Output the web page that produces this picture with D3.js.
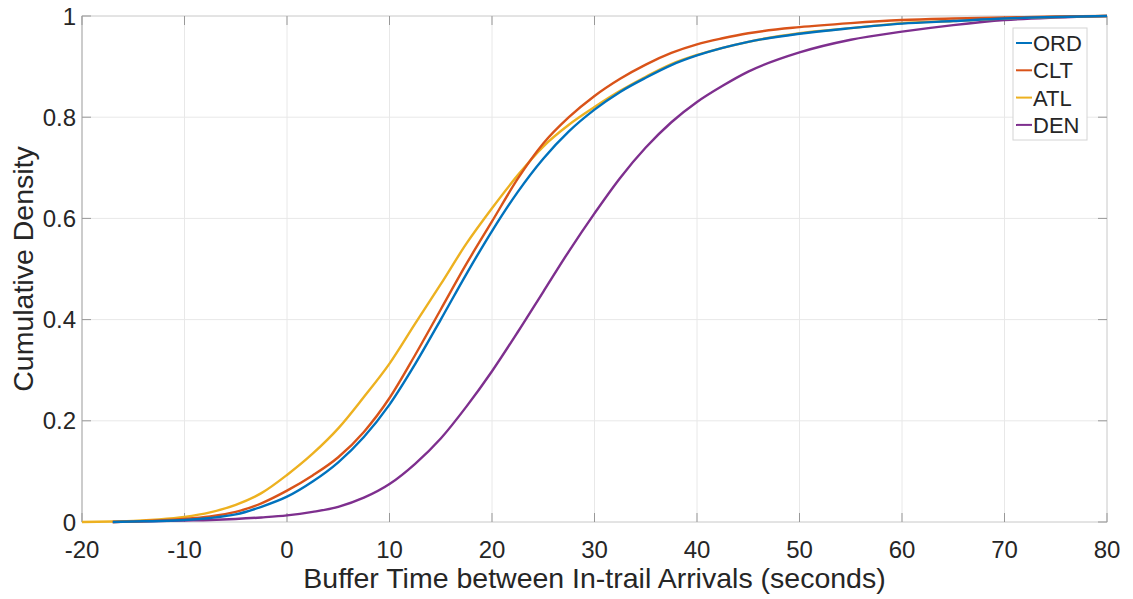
<!DOCTYPE html>
<html>
<head>
<meta charset="utf-8">
<script src="https://cdn.jsdelivr.net/npm/d3@7.9.0/dist/d3.min.js"></script>
<style>
  body { margin: 0; background: #fff; }
  text { font-family: "Liberation Sans", Arial, Helvetica, sans-serif; fill: #262626; }
</style>
</head>
<body>
<svg id="chart" width="1133" height="599"></svg>
<script>
// buffer time (seconds) where the CDFs were read
const xs = [-20, -17, -15, -12.5, -10, -7.5, -5, -2.5, 0, 2.5, 5, 7.5, 10, 12.5, 15, 17.5, 20,
  22.5, 25, 27.5, 30, 32.5, 35, 37.5, 40, 42.5, 45, 50, 55, 60, 65, 70, 75, 80];

// cumulative density per airport (null = no data yet)
const ord = [null, 0, 0.001, 0.002, 0.004, 0.008, 0.015, 0.03, 0.05, 0.08, 0.118, 0.168, 0.232, 0.312, 0.4, 0.49, 0.575,
  0.652, 0.718, 0.772, 0.815, 0.85, 0.878, 0.903, 0.922, 0.937, 0.949, 0.965, 0.976, 0.985, 0.99, 0.995, 0.998, 1];
const clt = [null, 0, 0.001, 0.003, 0.006, 0.011, 0.02, 0.037, 0.062, 0.092, 0.128, 0.178, 0.245, 0.33, 0.42, 0.51, 0.594,
  0.678, 0.748, 0.8, 0.842, 0.876, 0.904, 0.927, 0.944, 0.956, 0.966, 0.978, 0.986, 0.992, 0.995, 0.997, 0.999, 1];
const atl = [0, 0.001, 0.002, 0.005, 0.01, 0.019, 0.034, 0.057, 0.093, 0.135, 0.185, 0.247, 0.313, 0.392, 0.47, 0.55, 0.62,
  0.685, 0.742, 0.785, 0.82, 0.852, 0.88, 0.905, 0.923, 0.937, 0.949, 0.966, 0.976, 0.986, 0.99, 0.995, 0.998, 1];
const den = [null, 0, 0.001, 0.002, 0.003, 0.004, 0.006, 0.009, 0.013, 0.02, 0.03, 0.048, 0.075, 0.115, 0.165, 0.228, 0.298,
  0.375, 0.455, 0.535, 0.61, 0.68, 0.74, 0.79, 0.83, 0.862, 0.89, 0.928, 0.953, 0.969, 0.982, 0.992, 0.997, 1];

const seriesNames = ["ORD", "CLT", "ATL", "DEN"];
const seriesColors = ["#0072BD", "#D95319", "#EDB120", "#7E2F8E"];
const seriesValues = [ord, clt, atl, den];

const xTicks = [-20, -10, 0, 10, 20, 30, 40, 50, 60, 70, 80];
const yTicks = [0, 0.2, 0.4, 0.6, 0.8, 1];
const yTickLabels = ["0", "0.2", "0.4", "0.6", "0.8", "1"];

const svg = d3.select("#chart");
const plotL = 82, plotR = 1107, plotT = 16, plotB = 522;

const x = d3.scaleLinear().domain([-20, 80]).range([plotL, plotR]);
const y = d3.scaleLinear().domain([0, 1]).range([plotB, plotT]);

// grid
svg.append("g").selectAll("line").data(xTicks).join("line")
  .attr("x1", d => x(d)).attr("x2", d => x(d))
  .attr("y1", plotT).attr("y2", plotB)
  .attr("stroke", "#e8e8e8").attr("stroke-width", 1);
svg.append("g").selectAll("line").data(yTicks).join("line")
  .attr("x1", plotL).attr("x2", plotR)
  .attr("y1", d => y(d)).attr("y2", d => y(d))
  .attr("stroke", "#e8e8e8").attr("stroke-width", 1);

// box
svg.append("rect")
  .attr("x", plotL).attr("y", plotT)
  .attr("width", plotR - plotL).attr("height", plotB - plotT)
  .attr("fill", "none").attr("stroke", "#d4d4d4").attr("stroke-width", 1);
svg.append("line")
  .attr("x1", plotL).attr("x2", plotL).attr("y1", plotT).attr("y2", plotB)
  .attr("stroke", "#bdbdbd").attr("stroke-width", 1.2);

// inward ticks (MATLAB style)
const tickG = svg.append("g").attr("stroke", "#999").attr("stroke-width", 1);
xTicks.forEach(t => {
  tickG.append("line").attr("x1", x(t)).attr("x2", x(t)).attr("y1", plotB).attr("y2", plotB - 9);
  tickG.append("line").attr("x1", x(t)).attr("x2", x(t)).attr("y1", plotT).attr("y2", plotT + 9);
});
yTicks.forEach(t => {
  tickG.append("line").attr("x1", plotL).attr("x2", plotL + 9).attr("y1", y(t)).attr("y2", y(t));
  tickG.append("line").attr("x1", plotR).attr("x2", plotR - 9).attr("y1", y(t)).attr("y2", y(t));
});

// curves
const line = d3.line()
  .defined(d => d[1] != null)
  .x(d => x(d[0]))
  .y(d => y(d[1]))
  .curve(d3.curveMonotoneX);

// draw DEN first, then ATL, CLT, ORD
[3, 2, 1, 0].forEach(i => {
  svg.append("path")
    .datum(xs.map((v, j) => [v, seriesValues[i][j]]))
    .attr("d", line)
    .attr("fill", "none")
    .attr("stroke", seriesColors[i])
    .attr("stroke-width", 2.4)
    .attr("stroke-linejoin", "round");
});

// tick labels
svg.append("g").selectAll("text").data(xTicks).join("text")
  .attr("x", d => x(d)).attr("y", 558)
  .attr("text-anchor", "middle")
  .style("font-size", "24px")
  .text(d => d);
svg.append("g").selectAll("text").data(yTicks).join("text")
  .attr("x", 76).attr("y", d => y(d))
  .attr("dy", "0.36em")
  .attr("text-anchor", "end")
  .style("font-size", "24px")
  .text((d, i) => yTickLabels[i]);

// axis titles
svg.append("text")
  .attr("x", (plotL + plotR) / 2).attr("y", 588)
  .attr("text-anchor", "middle")
  .style("font-size", "28.5px")
  .text("Buffer Time between In-trail Arrivals (seconds)");
svg.append("text")
  .attr("transform", `translate(33,${(plotT + plotB) / 2}) rotate(-90)`)
  .attr("text-anchor", "middle")
  .style("font-size", "28.5px")
  .text("Cumulative Density");

// legend
const lg = svg.append("g").attr("transform", "translate(1013,28)");
lg.append("rect")
  .attr("width", 74).attr("height", 112)
  .attr("fill", "#fff").attr("stroke", "#d4d4d4");
seriesNames.forEach((name, i) => {
  const cy = 15 + i * 27.3;
  lg.append("line")
    .attr("x1", 3).attr("x2", 19).attr("y1", cy).attr("y2", cy)
    .attr("stroke", seriesColors[i]).attr("stroke-width", 2);
  lg.append("text")
    .attr("x", 20).attr("y", cy).attr("dy", "0.36em")
    .style("font-size", "22px")
    .text(name);
});
</script>
</body>
</html>
